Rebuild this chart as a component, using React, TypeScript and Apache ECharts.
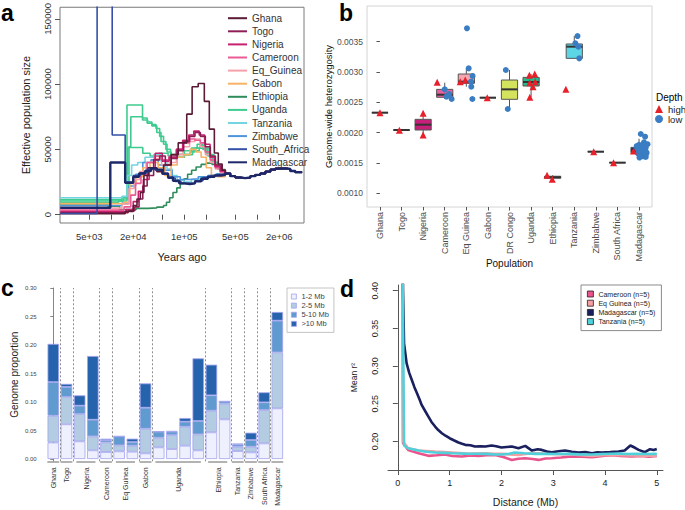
import React, { useEffect, useRef } from "react";
import * as echarts from "echarts";

const FONT = "'Liberation Sans', Arial, Helvetica, sans-serif";

// ---------------- Panel a : PSMC curves (years ago, Ne) ----------------
const psmcNames = ["Ghana", "Togo", "Nigeria", "Cameroon", "Eq_Guinea", "Gabon", "Ethiopia", "Uganda", "Tanzania", "Zimbabwe", "South_Africa", "Madagascar"];
const psmcColors = ["#5b1a35", "#8e1f55", "#c8206f", "#ea5a93", "#f5a0aa", "#f7b266", "#2f8d5c", "#3fcb8f", "#72d5e0", "#4f95dc", "#3550a6", "#1d2868"];

const psmcGhana = [[2000, 800], [15500, 2500], [20000, 7000], [22500, 12000], [25000, 17000], [28000, 30000], [32000, 36000], [42000, 33000], [52000, 38000], [66000, 46000], [82600, 55000], [108000, 77000], [128000, 98000], [155000, 100500], [188000, 86800], [220000, 65500], [258000, 47200], [292000, 38800], [330000, 34000]];
const psmcTogo = [[2000, 1500], [17000, 3000], [21000, 6000], [24000, 12000], [27000, 22000], [31000, 30000], [38000, 42000], [46000, 45000], [55000, 38000], [66000, 43000], [80000, 49000], [98000, 56000], [118000, 60000], [140000, 63000], [166000, 60000], [194000, 52000], [227000, 45000], [266000, 38000], [320000, 34000]];
const psmcNigeria = [[2000, 2200], [16000, 4000], [20000, 10000], [23500, 18000], [27500, 27000], [33000, 35000], [40000, 47000], [50000, 41000], [62000, 44000], [78000, 50000], [95000, 57000], [115000, 61000], [135000, 64000], [160000, 61000], [190000, 54000], [225000, 44000], [262000, 37000], [310000, 33500]];
const psmcCameroon = [[2000, 3500], [15000, 6000], [18500, 15000], [21500, 24000], [25500, 31000], [31000, 40000], [39000, 45000], [49000, 42000], [62000, 45000], [78000, 50000], [96000, 55000], [118000, 58000], [140000, 57000], [166000, 55000], [194000, 48000], [227000, 42000], [266000, 36000], [310000, 33000]];
const psmcEqGuinea = [[2000, 5000], [14000, 8000], [17500, 20000], [20500, 27000], [24500, 33000], [30000, 40000], [39000, 43000], [49000, 38000], [62000, 40000], [78000, 46000], [96000, 52000], [118000, 56000], [140000, 58000], [166000, 52000], [194000, 46000], [227000, 40000], [266000, 35000], [310000, 32000]];
const psmcGabon = [[2000, 8500], [15000, 9500], [18000, 24000], [22000, 29000], [27000, 36000], [34000, 40000], [44000, 36000], [54000, 30000], [66000, 38000], [80000, 44000], [98000, 46000], [120000, 50000], [145000, 48000], [170000, 44000], [200000, 36000], [235000, 30000], [280000, 29000]];
const psmcEthiopia = [[2000, 8200], [9000, 6500], [13000, 4000], [22000, 4800], [32000, 5200], [42000, 5800], [52000, 7000], [57000, 9500], [63000, 13000], [70000, 17000], [79000, 20500], [88000, 24000], [99000, 27500], [111000, 31000], [126000, 34000], [145000, 36500], [170000, 38500], [200000, 39500], [240000, 38500], [280000, 37000], [320000, 34500]];
const psmcUganda1 = [[2000, 9200], [12500, 10500], [16400, 84000], [26800, 72500], [31500, 71000], [36000, 69000], [41000, 66000], [46000, 60000], [52000, 54000], [58000, 48000], [66000, 45000], [80000, 44000], [100000, 46000], [120000, 48000], [140000, 51000], [165000, 53000], [190000, 51000], [220000, 46000], [255000, 40000], [290000, 35500], [330000, 33000]];
const psmcUganda2 = [[2000, 10500], [14500, 12000], [17500, 52000], [18500, 75000], [26800, 74000], [31000, 70000], [36000, 68000], [42000, 63000], [48000, 56000], [56000, 50000], [65000, 46000], [80000, 46500], [100000, 49000], [125000, 51000], [150000, 54000], [180000, 50000], [210000, 45000], [245000, 40000], [285000, 35000], [330000, 32500]];
const psmcUganda3 = [[2000, 11500], [14000, 13000], [16800, 51500], [27000, 47000], [34000, 45000], [45000, 47000], [60000, 45000], [80000, 44000], [100000, 46000], [130000, 49000], [160000, 51000], [200000, 46000], [240000, 40000], [290000, 35000], [330000, 32000]];
const psmcTanzania = [[2000, 13000], [14000, 14000], [16500, 30000], [19000, 38000], [23000, 40000], [29000, 44000], [38000, 46000], [48000, 41000], [58000, 35000], [68000, 30000], [80000, 26500], [98000, 25000], [125000, 27000], [165000, 28500], [215000, 30000], [270000, 31000], [320000, 31500]];
const psmcZimbabwe = [[2000, 7000], [14000, 9000], [17500, 22000], [21500, 31000], [27000, 40000], [35000, 42000], [44000, 38000], [54000, 34000], [68000, 29000], [88000, 27000], [115000, 27500], [155000, 29000], [210000, 30000], [270000, 31000], [320000, 31500]];
const psmcSouthAfrica = [[2000, 900], [6400, 400000], [10300, 61000], [15500, 25000], [20000, 30000], [25000, 32000], [31000, 35000], [40000, 34000], [50000, 31000], [60000, 28000], [75000, 25500], [90000, 24000], [110000, 24000], [140000, 26000], [180000, 28500], [230000, 30000], [280000, 31000], [330000, 31500]];
const psmcMadagascar = [[2000, 5300], [9700, 40000], [15500, 24500], [20000, 29000], [24000, 31500], [29000, 33500], [35000, 35500], [42000, 34500], [50000, 31500], [60000, 28500], [70000, 26000], [85000, 24000], [100000, 23500], [120000, 24000], [140000, 25500], [170000, 27500], [210000, 29000], [260000, 30000], [320000, 30500]];
const psmcAncientTail = [[364000, 31500], [427000, 29500], [500000, 28500], [585000, 28000], [684000, 28500], [802000, 29500], [940000, 30500], [1100000, 31500], [1290000, 33000], [1510000, 34500], [1760000, 35300], [2000000, 35500], [2420000, 35000], [2830000, 33500], [3310000, 32500], [4100000, 32000]];

// drawing order (bottom to top)
const psmcDrawOrder = [
  { name: "Ethiopia", pts: psmcEthiopia },
  { name: "Uganda", pts: psmcUganda3 },
  { name: "Uganda", pts: psmcUganda2 },
  { name: "Uganda", pts: psmcUganda1 },
  { name: "Tanzania", pts: psmcTanzania },
  { name: "Zimbabwe", pts: psmcZimbabwe },
  { name: "Gabon", pts: psmcGabon },
  { name: "Eq_Guinea", pts: psmcEqGuinea },
  { name: "Cameroon", pts: psmcCameroon },
  { name: "Nigeria", pts: psmcNigeria },
  { name: "Togo", pts: psmcTogo },
  { name: "Ghana", pts: psmcGhana },
  { name: "South_Africa", pts: psmcSouthAfrica },
  { name: "Madagascar", pts: psmcMadagascar },
];

const aTickYears = [5000, 10000, 20000, 50000, 100000, 200000, 500000, 1000000, 2000000];
const aLabelYears = [5000, 20000, 100000, 500000, 2000000];
const aLabelTexts = ["5e+03", "2e+04", "1e+05", "5e+05", "2e+06"];
const aYTicks = [0, 50000, 100000, 150000];

// ---------------- Panel b : heterozygosity ----------------
const bPopulations = ["Ghana", "Togo", "Nigeria", "Cameroon", "Eq Guinea", "Gabon", "DR Congo", "Uganda", "Ethiopia", "Tanzania", "Zimbabwe", "South Africa", "Madagascar"];
const bBoxColors = ["#5b1a35", "#8e1f55", "#c8207a", "#e95fa0", "#f6a6b0", "#f7b266", "#d4e35e", "#1fbd8d", "#2f8d5c", "#5cd6e4", "#4f95dc", "#3550a6", "#1c2466"];
// [min, q1, median, q3, max]
const bBoxStats = [
  [0.00233, 0.00233, 0.00233, 0.00233, 0.00233],
  [0.002044, 0.002044, 0.002044, 0.002044, 0.002044],
  [0.00196, 0.002044, 0.002132, 0.00222, 0.00232],
  [0.002555, 0.002583, 0.002626, 0.002714, 0.002824],
  [0.002758, 0.002813, 0.00284, 0.002967, 0.00306],
  [0.002577, 0.002577, 0.002577, 0.002577, 0.002577],
  [0.00239, 0.00255, 0.002714, 0.002868, 0.003033],
  [0.002583, 0.002769, 0.002835, 0.002912, 0.002967],
  [0.001231, 0.00125, 0.001265, 0.001282, 0.0013],
  [0.003225, 0.003225, 0.003418, 0.003462, 0.003593],
  [0.001687, 0.001687, 0.001687, 0.001687, 0.001687],
  [0.001506, 0.001506, 0.001506, 0.001506, 0.001506],
  [0.00159, 0.00167, 0.0017, 0.001758, 0.0019],
];
const bHighCat = [0, 1, 2, 2, 3, 4, 4, 5, 7, 7, 7, 7, 7, 7, 8, 8, 9, 10, 11, 12];
const bHighJitter = [0, -0.1, 0, 0, -0.35, -0.28, -0.05, -0.03, -0.08, 0.17, -0.06, 0.19, 0.09, -0.06, -0.26, -0.02, -0.39, -0.1, -0.18, -0.26];
const bHighValue = [0.00233, 0.00204, 0.00232, 0.00196, 0.00283, 0.00284, 0.002868, 0.002577, 0.002945, 0.002967, 0.002824, 0.00284, 0.002758, 0.002583, 0.0013, 0.001231, 0.002714, 0.001687, 0.001506, 0.0017];
const bLowCat = [3, 3, 3, 3, 4, 4, 4, 4, 4, 4, 6, 6, 9, 9, 9, 9, 12, 12, 12, 12, 12, 12, 12, 12, 12, 12, 12, 12, 12, 12, 12, 12, 12, 12, 12, 12, 12, 12];
const bLowJitter = [0, 0.08, 0.2, 0.32, 0.03, 0.11, 0.29, 0.22, 0.23, 0.28, -0.17, -0.08, 0.15, 0.05, 0.19, 0.23, 0.08, 0.28, 0.23, 0, 0.15, 0.31, -0.08, 0.08, 0.26, 0.35, -0.05, 0.15, 0.31, 0.05, 0.2, 0.02, 0.31, -0.11, 0.39, 0.11, 0.2, 0.25];
const bLowValue = [0.002714, 0.002593, 0.002637, 0.002555, 0.00372, 0.00306, 0.002934, 0.00284, 0.002758, 0.002555, 0.003033, 0.00239, 0.003593, 0.003472, 0.003418, 0.003225, 0.001978, 0.001934, 0.00184, 0.0018, 0.001775, 0.00175, 0.00174, 0.0017, 0.00169, 0.00167, 0.00166, 0.00165, 0.00164, 0.001625, 0.00161, 0.00159, 0.0016, 0.00178, 0.00181, 0.00172, 0.00168, 0.00173];
const bYTicks = [0.001, 0.0015, 0.002, 0.0025, 0.003, 0.0035];

// ---------------- Panel c : ROH genome proportion ----------------
const cGroupNames = ["Ghana", "Togo", "Nigeria", "Cameroon", "Eq Guinea", "Gabon", "Uganda", "Ethiopia", "Tanzania", "Zimbabwe", "South Africa", "Madagascar"];
const cGroupSizes = [1, 1, 2, 1, 2, 1, 4, 2, 1, 1, 1, 1];
const cSeg1to2 = [0.029, 0.061, 0.031, 0.0152, 0.0123, 0.0135, 0.0129, 0.0099, 0.0205, 0.0175, 0.0234, 0.0152, 0.0468, 0.0696, 0.014, 0.0117, 0.0275, 0.0889];
const cSeg2to5 = [0.047, 0.048, 0.048, 0.0246, 0.0169, 0.0105, 0.0105, 0.0433, 0.0169, 0.0246, 0.0333, 0.0281, 0.038, 0.0275, 0.0076, 0.0099, 0.0585, 0.0982];
const cSeg5to10 = [0.059, 0.0175, 0.0146, 0.0292, 0.0041, 0.0158, 0.0064, 0.0368, 0.0106, 0.0059, 0.0088, 0.0234, 0.0269, 0.004, 0.0041, 0.0117, 0.0134, 0.0556];
const cSegOver10 = [0.067, 0.0053, 0.0181, 0.1117, 0.0024, 0, 0.0059, 0.0427, 0.0005, 0.001, 0.0064, 0.1099, 0.0538, 0, 0.0012, 0.0129, 0.0176, 0.0152];
const cSegNames = ["1-2 Mb", "2-5 Mb", "5-10 Mb", ">10 Mb"];
const cSegColors = ["#eef0fd", "#b3cce1", "#5f9bcf", "#2563ad"];
const cYTicks = [0, 0.05, 0.1, 0.15, 0.2, 0.25, 0.3];

// ---------------- Panel d : LD decay ----------------
const dNames = ["Cameroon (n=5)", "Eq Guinea (n=5)", "Madagascar (n=5)", "Tanzania (n=5)"];
const dColors = ["#e9548c", "#f4a0a2", "#1a1f5e", "#4fd1dc"];
const dCameroon = [[0.08, 0.6], [0.1, 0.198], [0.2, 0.1887], [0.4, 0.1843], [0.59, 0.1808], [0.75, 0.1815], [0.91, 0.1825], [1.05, 0.1805], [1.24, 0.18], [1.4, 0.1812], [1.56, 0.1808], [1.72, 0.1815], [1.88, 0.182], [2.05, 0.179], [2.2, 0.1754], [2.33, 0.177], [2.46, 0.1776], [2.6, 0.1765], [2.72, 0.1754], [2.85, 0.1772], [2.97, 0.1776], [3.15, 0.1785], [3.36, 0.18], [3.55, 0.1798], [3.75, 0.179], [3.95, 0.1808], [4.13, 0.1816], [4.3, 0.1805], [4.52, 0.18], [4.7, 0.1805], [4.85, 0.1798], [5.0, 0.1808]];
const dEqGuinea = [[0.08, 0.6], [0.1, 0.1998], [0.2, 0.1909], [0.4, 0.1878], [0.55, 0.1872], [0.72, 0.1865], [0.9, 0.1858], [1.04, 0.1852], [1.2, 0.1845], [1.36, 0.1834], [1.5, 0.1838], [1.69, 0.1843], [1.85, 0.1836], [2.0, 0.1834], [2.15, 0.1828], [2.33, 0.182], [2.5, 0.1835], [2.65, 0.1843], [2.8, 0.1838], [2.97, 0.1834], [3.15, 0.183], [3.36, 0.1825], [3.55, 0.1815], [3.75, 0.1808], [3.95, 0.1815], [4.13, 0.182], [4.3, 0.1815], [4.52, 0.1812], [4.75, 0.181], [5.0, 0.1808]];
const dMadagascar = [[0.08, 0.6], [0.1, 0.4], [0.12, 0.33], [0.17, 0.3036], [0.22, 0.291], [0.27, 0.2815], [0.32, 0.272], [0.37, 0.2639], [0.42, 0.2555], [0.46, 0.2484], [0.53, 0.24], [0.59, 0.2329], [0.65, 0.2258], [0.72, 0.2197], [0.78, 0.215], [0.85, 0.2108], [0.92, 0.2075], [1.0, 0.2042], [1.08, 0.2015], [1.17, 0.1985], [1.24, 0.1968], [1.3, 0.1954], [1.4, 0.1948], [1.49, 0.1931], [1.6, 0.1935], [1.69, 0.1931], [1.81, 0.1945], [1.9, 0.1935], [2.0, 0.1918], [2.1, 0.1925], [2.2, 0.1931], [2.33, 0.1909], [2.46, 0.194], [2.59, 0.1878], [2.7, 0.1895], [2.78, 0.1887], [2.88, 0.1865], [2.97, 0.1856], [3.1, 0.1868], [3.23, 0.1878], [3.36, 0.1862], [3.49, 0.1852], [3.62, 0.186], [3.75, 0.1843], [3.85, 0.1855], [3.94, 0.1852], [4.1, 0.1858], [4.26, 0.1865], [4.38, 0.188], [4.49, 0.1945], [4.58, 0.1915], [4.65, 0.1887], [4.77, 0.1856], [4.87, 0.1896], [4.94, 0.1885], [5.0, 0.19]];
const dTanzania = [[0.07, 0.6], [0.12, 0.1945], [0.2, 0.1909], [0.4, 0.1878], [0.55, 0.1862], [0.72, 0.1852], [0.9, 0.1848], [1.04, 0.1843], [1.3, 0.1838], [1.5, 0.1835], [1.69, 0.1834], [1.85, 0.1828], [2.0, 0.1825], [2.15, 0.1835], [2.26, 0.1852], [2.45, 0.1842], [2.65, 0.1834], [2.85, 0.1836], [3.05, 0.1832], [3.29, 0.1834], [3.5, 0.1828], [3.75, 0.1825], [3.95, 0.1832], [4.1, 0.1836], [4.26, 0.1838], [4.45, 0.1832], [4.58, 0.1834], [4.8, 0.1832], [5.0, 0.1834]];
const dXTicks = [0, 1, 2, 3, 4, 5];
const dYTicks = [0.2, 0.25, 0.3, 0.35, 0.4];

function buildOption() {
  const lg = (v: number) => Math.log10(v);
  const matchIdx = (vals: number[], v: number) => vals.findIndex((t) => Math.abs(t - v) < 1e-7);

  // panel a series
  const aSeries = psmcDrawOrder.map((c) => {
    const color = psmcColors[psmcNames.indexOf(c.name)];
    const pts = c.pts.concat(psmcAncientTail).map((p) => [lg(p[0]), p[1]]);
    return {
      type: "line",
      name: c.name,
      xAxisIndex: 0,
      yAxisIndex: 0,
      step: "end",
      showSymbol: false,
      symbol: "none",
      data: pts,
      itemStyle: { color },
      lineStyle: { color, width: c.name === "Madagascar" ? 2.4 : 1.6 },
      silent: true,
    };
  });

  // panel b
  const boxData = bBoxStats.map((s, i) => [i, ...s]);
  const boxSeries = {
    type: "custom",
    name: "boxes",
    xAxisIndex: 1,
    yAxisIndex: 1,
    encode: { x: 0, y: [1, 2, 3, 4, 5] },
    data: boxData,
    renderItem: (params: any, api: any) => {
      const i = api.value(0);
      const pMin = api.coord([i, api.value(1)]);
      const pQ1 = api.coord([i, api.value(2)]);
      const pMed = api.coord([i, api.value(3)]);
      const pQ3 = api.coord([i, api.value(4)]);
      const pMax = api.coord([i, api.value(5)]);
      const half = api.size([0.75, 0])[0] / 2;
      const cx = pMed[0];
      const color = bBoxColors[params.dataIndex];
      return {
        type: "group",
        children: [
          { type: "line", shape: { x1: cx, y1: pMax[1], x2: cx, y2: pQ3[1] }, style: { stroke: "#555", lineWidth: 1 } },
          { type: "line", shape: { x1: cx, y1: pQ1[1], x2: cx, y2: pMin[1] }, style: { stroke: "#555", lineWidth: 1 } },
          { type: "rect", shape: { x: cx - half, y: pQ3[1], width: half * 2, height: Math.max(pQ1[1] - pQ3[1], 0) }, style: { fill: color, stroke: "#555", lineWidth: 1 } },
          { type: "line", shape: { x1: cx - half, y1: pMed[1], x2: cx + half, y2: pMed[1] }, style: { stroke: "#333", lineWidth: 2 } },
        ],
      };
    },
  };
  const lowSeries = {
    type: "scatter",
    name: "low",
    xAxisIndex: 1,
    yAxisIndex: 1,
    symbol: "circle",
    symbolSize: 6,
    itemStyle: { color: "#3a7dc2", opacity: 1 },
    data: bLowCat.map((c, i) => [c + bLowJitter[i], bLowValue[i]]),
  };
  const highSeries = {
    type: "scatter",
    name: "high",
    xAxisIndex: 1,
    yAxisIndex: 1,
    symbol: "triangle",
    symbolSize: 7,
    itemStyle: { color: "#e8202a", opacity: 1 },
    data: bHighCat.map((c, i) => [c + bHighJitter[i], bHighValue[i]]),
  };

  // panel c
  const groupStart: number[] = [];
  let acc = 0;
  cGroupSizes.forEach((n) => {
    groupStart.push(acc);
    acc += n;
  });
  const barCount = acc;
  const groupCenters = cGroupSizes.map((n, g) => groupStart[g] + (n - 1) / 2);
  const separators = groupStart.slice(1).map((s) => s - 0.5);
  const cYMin = -0.004;
  const underlines = cGroupSizes.map((n, g) => {
    const first = groupStart[g];
    const last = first + n - 1;
    const a = n === 1 ? first - 0.45 : first - 0.25;
    const b = n === 1 ? last + 0.45 : last + 0.2;
    const ls = { color: "#9a9a9a", width: 1.5, type: "solid" };
    return [
      { coord: [a, cYMin], lineStyle: ls },
      { coord: [b, cYMin], lineStyle: ls },
    ];
  });
  const segs = [cSeg1to2, cSeg2to5, cSeg5to10, cSegOver10];
  const cSeries = segs.map((arr, k) => ({
    type: "bar",
    name: cSegNames[k],
    xAxisIndex: 2,
    yAxisIndex: 2,
    stack: "roh",
    barWidth: 11.5,
    data: arr,
    itemStyle: { color: cSegColors[k], borderColor: "#a3a3ef", borderWidth: 0.8 },
  }));
  const cDecor = {
    type: "scatter",
    name: "c-decor",
    xAxisIndex: 4,
    yAxisIndex: 2,
    data: [],
    silent: true,
    markLine: {
      silent: true,
      symbol: ["none", "none"],
      label: { show: false },
      animation: false,
      data: [
        ...separators.map((x) => ({ xAxis: x, lineStyle: { color: "#808080", width: 0.9, type: [2, 2] } })),
        ...underlines,
      ],
    },
  };

  // panel d
  const dData = [dCameroon, dEqGuinea, dMadagascar, dTanzania];
  const dSeries = dData.map((arr, k) => ({
    type: "line",
    name: dNames[k],
    xAxisIndex: 3,
    yAxisIndex: 3,
    showSymbol: false,
    symbol: "none",
    data: arr,
    itemStyle: { color: dColors[k] },
    lineStyle: { color: dColors[k], width: 2.6 },
    silent: true,
  }));

  const letter = (t: string, left: number, top: number) => ({
    text: t,
    left,
    top,
    padding: 0,
    textStyle: { fontSize: 23, fontWeight: "bold", color: "#000", fontFamily: FONT },
  });

  return {
    animation: false,
    backgroundColor: "#ffffff",
    textStyle: { fontFamily: FONT },
    title: [
      letter("a", 1, 1),
      letter("b", 339, 1),
      letter("c", 1, 276),
      letter("d", 340, 277),
      { text: "Depth", left: 656, top: 92, padding: 0, textStyle: { fontSize: 10, fontWeight: "normal", color: "#000", fontFamily: FONT } },
    ],
    legend: [
      {
        data: psmcNames,
        orient: "vertical",
        left: 228,
        top: 13,
        padding: 0,
        itemGap: 2.7,
        icon: "rect",
        itemWidth: 19,
        itemHeight: 2,
        textStyle: { fontSize: 10, lineHeight: 10.4, color: "#333", fontFamily: FONT },
        selectedMode: false,
      },
      {
        data: ["high", "low"],
        orient: "vertical",
        left: 655,
        top: 104,
        padding: 0,
        itemGap: 0,
        itemWidth: 8,
        itemHeight: 8,
        textStyle: { fontSize: 9.5, lineHeight: 9, color: "#222", fontFamily: FONT },
        selectedMode: false,
      },
      {
        data: cSegNames,
        orient: "vertical",
        left: 287,
        top: 288,
        padding: [4, 5, 4, 4],
        itemGap: 0,
        icon: "rect",
        itemWidth: 5,
        itemHeight: 5,
        borderColor: "#b5b5b5",
        borderWidth: 0.8,
        backgroundColor: "#fff",
        itemStyle: { borderColor: "#a3a3ef", borderWidth: 0.8 },
        textStyle: { fontSize: 7.5, lineHeight: 9.1, color: "#444", fontFamily: FONT },
        selectedMode: false,
      },
      {
        data: dNames,
        orient: "vertical",
        left: 581,
        top: 285,
        padding: [4.4, 6, 4.4, 6],
        itemGap: 0,
        icon: "rect",
        itemWidth: 6,
        itemHeight: 6,
        borderColor: "#8a8a8a",
        borderWidth: 1,
        backgroundColor: "#fff",
        itemStyle: { borderColor: "#222", borderWidth: 0.8 },
        textStyle: { fontSize: 7, lineHeight: 9.2, color: "#222", fontFamily: FONT },
        selectedMode: false,
      },
    ],
    grid: [
      { left: 60, top: 5, width: 244, height: 218, show: true, borderColor: "#7a7a7a", borderWidth: 1 },
      { left: 367, top: 6, width: 285, height: 201, show: true, borderColor: "#d4d4d4", borderWidth: 1 },
      { left: 46.7, top: 288, width: 237.2, height: 173.3 },
      { left: 388, top: 285, width: 275, height: 185 },
    ],
    xAxis: [
      {
        gridIndex: 0,
        type: "value",
        min: 3.298,
        max: 6.639,
        axisLine: { show: false },
        splitLine: { show: false },
        axisTick: { show: true, customValues: aTickYears.map(lg), length: 5, lineStyle: { color: "#555" } },
        axisLabel: {
          customValues: aLabelYears.map(lg),
          formatter: (v: number) => {
            const i = aLabelYears.findIndex((t) => Math.abs(lg(t) - v) < 1e-6);
            return i >= 0 ? aLabelTexts[i] : "";
          },
          fontSize: 9.5,
          color: "#333",
          margin: 8,
        },
        name: "Years ago",
        nameLocation: "middle",
        nameGap: 28,
        nameTextStyle: { fontSize: 11, color: "#222" },
      },
      {
        gridIndex: 1,
        type: "value",
        min: -0.6,
        max: 12.6,
        axisLine: { show: false },
        splitLine: { show: false },
        axisTick: { show: true, customValues: bPopulations.map((_, i) => i), length: 3.5, lineStyle: { color: "#555" } },
        axisLabel: {
          customValues: bPopulations.map((_, i) => i),
          formatter: (v: number) => bPopulations[Math.round(v)] ?? "",
          rotate: 90,
          fontSize: 9,
          color: "#4d4d4d",
          margin: 5,
        },
        name: "Population",
        nameLocation: "middle",
        nameGap: 51,
        nameMoveOverlap: false,
        nameTextStyle: { fontSize: 10, color: "#111" },
      },
      {
        gridIndex: 2,
        type: "category",
        position: "bottom",
        data: Array.from({ length: barCount }, (_, i) => String(i)),
        show: false,
      },
      {
        gridIndex: 3,
        type: "value",
        min: -0.19,
        max: 5.12,
        axisLine: { show: true, lineStyle: { color: "#555", width: 1 } },
        splitLine: { show: false },
        axisTick: { show: true, customValues: dXTicks, length: 5, lineStyle: { color: "#555" } },
        axisLabel: { customValues: dXTicks, formatter: (v: number) => String(Math.round(v)), fontSize: 9, color: "#222", margin: 8 },
        name: "Distance (Mb)",
        nameLocation: "middle",
        nameGap: 26,
        nameTextStyle: { fontSize: 10.5, color: "#222" },
      },
      {
        gridIndex: 2,
        type: "value",
        position: "bottom",
        min: -0.5,
        max: barCount - 0.5,
        axisLine: { show: false },
        splitLine: { show: false },
        axisTick: { show: false },
        axisLabel: {
          customValues: groupCenters,
          formatter: (v: number) => {
            const i = matchIdx(groupCenters, v);
            return i >= 0 ? cGroupNames[i] : "";
          },
          rotate: 90,
          fontSize: 7,
          color: "#333",
          margin: 6,
        },
      },
    ],
    yAxis: [
      {
        gridIndex: 0,
        type: "value",
        min: -6376,
        max: 158880,
        axisLine: { show: false },
        splitLine: { show: false },
        axisTick: { show: true, customValues: aYTicks, length: 5, lineStyle: { color: "#555" } },
        axisLabel: { customValues: aYTicks, formatter: (v: number) => String(Math.round(v)), rotate: 90, fontSize: 9.5, color: "#333", margin: 8 },
        name: "Effective population size",
        nameLocation: "middle",
        nameGap: 29,
        nameTextStyle: { fontSize: 11, color: "#222" },
      },
      {
        gridIndex: 1,
        type: "value",
        min: 0.000775,
        max: 0.004088,
        axisLine: { show: false },
        splitLine: { show: false },
        axisTick: { show: true, customValues: bYTicks, length: 3.5, lineStyle: { color: "#555" } },
        axisLabel: { customValues: bYTicks, formatter: (v: number) => v.toFixed(4), fontSize: 8.5, color: "#4d4d4d", margin: 4 },
        name: "Genome-wide heterozygosity",
        nameLocation: "middle",
        nameGap: 31,
        nameTextStyle: { fontSize: 9.5, color: "#111" },
      },
      {
        gridIndex: 2,
        type: "value",
        min: cYMin,
        max: 0.3,
        offset: 7,
        axisLine: { show: true, lineStyle: { color: "#666", width: 0.8 } },
        splitLine: { show: false },
        axisTick: { show: true, customValues: cYTicks, length: 3, lineStyle: { color: "#666", width: 0.8 } },
        axisLabel: { customValues: cYTicks, formatter: (v: number) => v.toFixed(2), fontSize: 6, color: "#444", margin: 3 },
        name: "Genome proportion",
        nameLocation: "middle",
        nameGap: 20,
        nameTextStyle: { fontSize: 10, color: "#222" },
      },
      {
        gridIndex: 3,
        type: "value",
        min: 0.162,
        max: 0.4076,
        axisLine: { show: true, lineStyle: { color: "#555", width: 1 } },
        splitLine: { show: false },
        axisTick: { show: true, customValues: dYTicks, length: 5, lineStyle: { color: "#555" } },
        axisLabel: { customValues: dYTicks, formatter: (v: number) => v.toFixed(2), rotate: 90, fontSize: 9, color: "#222", margin: 9 },
        name: "Mean r²",
        nameLocation: "middle",
        nameGap: 30,
        nameTextStyle: { fontSize: 8.5, color: "#222" },
      },
    ],
    series: [...aSeries, boxSeries, lowSeries, highSeries, ...cSeries, cDecor, ...dSeries],
  };
}

export default function App() {
  const ref = useRef<HTMLDivElement>(null);
  useEffect(() => {
    document.body.style.margin = "0";
    if (!ref.current) return;
    const chart = echarts.init(ref.current, undefined, { renderer: "svg" });
    chart.setOption(buildOption() as any);
    return () => chart.dispose();
  }, []);
  return <div ref={ref} style={{ position: "fixed", left: 0, top: 0, width: 685, height: 510, background: "#fff" }} />;
}
